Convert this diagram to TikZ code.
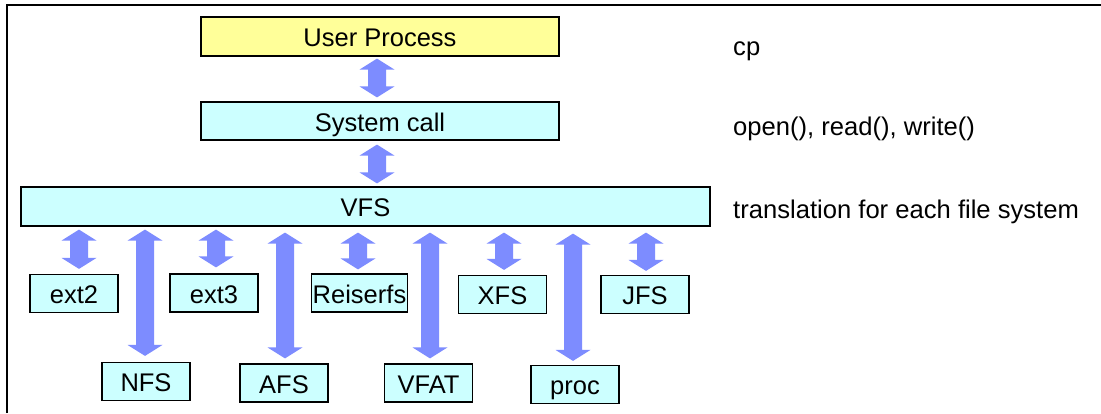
\documentclass[tikz,border=0pt]{standalone}
\usepackage{fontspec}
\setmainfont{Liberation Sans}
\usetikzlibrary{calc}
\definecolor{boxyellow}{RGB}{255,255,153}
\definecolor{boxcyan}{RGB}{204,255,255}
\definecolor{arrowblue}{RGB}{125,140,255}
% fat double-headed block arrow between a top point and a bottom point
\newcommand\fatarrow[2]{%
  \fill[arrowblue] let \p1=#1, \p2=#2 in
    (\x1-9pt,\y1-11pt) -- (\x1-17.5pt,\y1-11pt) -- (\x1,\y1) -- (\x1+17.5pt,\y1-11pt) -- (\x1+9pt,\y1-11pt)
    -- (\x1+9pt,\y2+11pt) -- (\x1+17.5pt,\y2+11pt) -- (\x1,\y2) -- (\x1-17.5pt,\y2+11pt) -- (\x1-9pt,\y2+11pt) -- cycle;}
% arrow from VFS down to a file-system box
\newcommand\fsarrow[4]{\fatarrow{($(#1.north |- vfs.south)+(#2,#3)$)}{($(#1.north)+(#2,-#4)$)}}
\begin{document}
\begin{tikzpicture}[x=1pt,y=-1pt,
  box/.style={draw=black, line width=1.2pt, minimum height=38pt, inner sep=0pt,
              text height=20pt, text depth=0pt, font=\fontsize{25.5}{30}\selectfont},
  fsbox/.style={box, fill=boxcyan, minimum width=88pt, inner xsep=1.5pt},
  note/.style={anchor=base west, inner sep=0pt, font=\fontsize{25.6}{30}\selectfont}]
\useasboundingbox (0,0) rectangle (1101,413);
\fill[white] (0,0) rectangle (1101,413);
\draw[line width=1.5pt] (7,413) -- (7,5) -- (1101,5);

\node[box, fill=boxyellow, minimum width=358pt, minimum height=39pt] (up) at (380,36.5) {User Process};
\node[box, fill=boxcyan, minimum width=358pt] (sc) at (380,121) {System call};
\node[box, fill=boxcyan, minimum width=689pt, minimum height=39pt] (vfs) at (365.5,206.5) {VFS};

\node[fsbox] (ext2) at (74,293.5) {ext2};
\node[fsbox] (ext3) at (214,293) {ext3};
\node[fsbox] (reiser) at (359.5,293) {Reiserfs};
\node[fsbox] (xfs) at (502.5,294.5) {XFS};
\node[fsbox] (jfs) at (645,294.5) {JFS};
\node[fsbox] (nfs) at (146,381.5) {NFS};
\node[fsbox] (afs) at (284,383) {AFS};
\node[fsbox] (vfat) at (428.5,383) {VFAT};
\node[fsbox] (proc) at (575,384.5) {proc};

\node[note] (t1) at (733,55) {cp};
\node[note] (t2) at (733,135) {open(), read(), write()};
\node[note] (t3) at (733,218) {translation for each file system};

\fatarrow{($(up.south)+(-3,2)$)}{($(sc.north)+(-3,-4)$)}
\fatarrow{($(sc.south)+(-3,4)$)}{($(vfs.north -| sc.south)+(-3,-3)$)}

\fsarrow{ext2}{5}{3}{5}
\fsarrow{nfs}{-1}{3}{6}
\fsarrow{ext3}{2}{3}{6}
\fsarrow{afs}{1}{6}{5}
\fsarrow{reiser}{-1.5}{6}{4}
\fsarrow{vfat}{1.5}{6}{5}
\fsarrow{xfs}{1.5}{6}{5}
\fsarrow{proc}{-2}{7}{4}
\fsarrow{jfs}{1}{6}{4}
\end{tikzpicture}
\end{document}
